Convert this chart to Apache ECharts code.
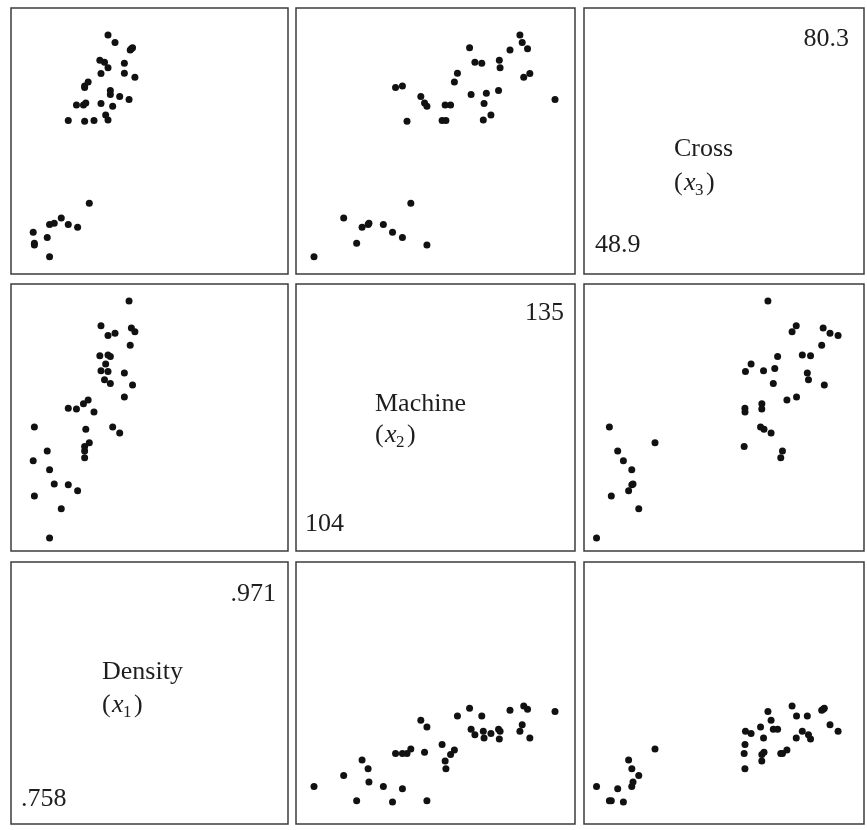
<!DOCTYPE html>
<html>
<head>
<meta charset="utf-8">
<script src="https://cdn.jsdelivr.net/npm/echarts@6/dist/echarts.min.js"></script>
<style>
html,body{margin:0;padding:0;background:#fff;}
#chart{width:867px;height:830px;}
</style>
</head>
<body>
<div id="chart"></div>
<script>
// Paper-quality measurements (specimen order). Density of specimen 25 is not plotted in the picture.
const density = [0.801,0.824,0.841,0.816,0.840,0.842,0.820,0.802,0.828,0.819,0.826,0.802,0.810,0.802,0.832,0.796,0.759,0.770,0.759,0.772,0.806,0.803,0.845,0.822,null,0.816,0.836,0.815,0.822,0.822,0.843,0.824,0.788,0.782,0.795,0.805,0.836,0.788,0.772,0.776,0.758];
const machine = [121.41,127.70,129.20,131.80,135.10,131.50,126.70,115.10,130.80,124.60,118.31,114.20,120.30,115.70,117.51,109.81,109.10,115.10,118.31,112.60,116.20,118.00,131.00,125.70,126.10,125.80,125.50,127.80,130.50,127.90,123.90,124.10,120.80,107.40,120.70,121.91,122.31,110.60,103.51,110.71,113.80];
const cross = [70.42,72.47,78.20,74.89,71.21,78.39,69.02,73.10,79.28,76.48,70.25,72.88,68.23,68.12,71.62,53.10,50.85,51.68,50.60,53.51,56.53,70.70,74.35,68.29,72.10,70.64,76.33,76.75,80.33,75.68,78.54,71.91,68.22,54.42,70.41,73.68,74.93,53.52,48.93,53.67,52.42];

const varNames = ['Density', 'Machine', 'Cross'];
const varSubs = ['1', '2', '3'];
const minLabels = ['.758', '104', '48.9'];
const maxLabels = ['.971', '135', '80.3'];

const data = {Density: density, Machine: machine, Cross: cross};
// column variables (x) and row variables (y)
const colVars = ['Density', 'Machine', 'Cross'];
const rowVars = ['Cross', 'Machine', 'Density'];

// layout (pixels) and axis ranges
const colBox = [[11, 277], [296, 279], [584, 280]];
const rowBox = [[8, 266], [284, 267], [562, 262]];
const xRange = {Density: [0.739, 0.976], Machine: [101.15, 137.72], Cross: [47.3, 83.7]};
const yRange = {Cross: [46.5, 84.15], Machine: [101.78, 137.38], Density: [0.738, 0.9755]};

function pairs(xs, ys) {
  const out = [];
  for (let i = 0; i < xs.length; i++) {
    if (xs[i] == null || ys[i] == null) continue;
    out.push([xs[i], ys[i]]);
  }
  return out;
}

const grids = [], xAxes = [], yAxes = [], series = [], graphics = [];
let gi = 0;
for (let r = 0; r < 3; r++) {
  for (let c = 0; c < 3; c++) {
    const xv = colVars[c], yv = rowVars[r];
    grids.push({
      left: colBox[c][0], width: colBox[c][1],
      top: rowBox[r][0], height: rowBox[r][1],
      show: true, borderColor: '#3c3c3c', borderWidth: 1.5, backgroundColor: '#fff'
    });
    xAxes.push({gridIndex: gi, type: 'value', min: xRange[xv][0], max: xRange[xv][1], show: false});
    yAxes.push({gridIndex: gi, type: 'value', min: yRange[yv][0], max: yRange[yv][1], show: false});
    if (xv !== yv) {
      series.push({
        type: 'scatter', xAxisIndex: gi, yAxisIndex: gi,
        data: pairs(data[xv], data[yv]),
        symbol: 'circle', symbolSize: 7,
        itemStyle: {color: '#111', opacity: 1},
        silent: true
      });
    }
    gi++;
  }
}

// diagonal labels
const font = '"Liberation Serif", "Times New Roman", serif';
const txtColor = '#1e1e1e';
function addText(x, y, text, opts) {
  graphics.push({
    type: 'text', x: x, y: y, silent: true,
    style: Object.assign({
      text: text, fill: txtColor, fontFamily: font, fontSize: 26,
      align: 'left', verticalAlign: 'middle'
    }, opts || {})
  });
}
// positions for each diagonal panel: [maxRightX, maxY, minLeftX, minY, nameX, nameY, subY]
const diag = {
  Cross:   [849, 39, 595, 245, 674, 149, 192],
  Machine: [564, 313, 305, 524, 375, 404, 444],
  Density: [276, 594, 21, 799, 102, 672, 714]
};
for (let k = 0; k < 3; k++) {
  const nm = varNames[k];
  const p = diag[nm];
  addText(p[0], p[1], maxLabels[k], {align: 'right'});
  addText(p[2], p[3], minLabels[k]);
  addText(p[4], p[5], nm);
  const B = p[6]; // baseline of "(x_k)" line
  addText(p[4], B - 8.8, '(');
  addText(p[4] + 10, B - 8.8, 'x', {fontStyle: 'italic'});
  addText(p[4] + 21, B + 4 - 5.7, varSubs[k], {fontSize: 17});
  addText(p[4] + 32, B - 8.8, ')');
}

const chart = echarts.init(document.getElementById('chart'), null, {renderer: 'canvas'});
chart.setOption({
  animation: false,
  backgroundColor: '#fff',
  grid: grids,
  xAxis: xAxes,
  yAxis: yAxes,
  series: series,
  graphic: graphics
});
</script>
</body>
</html>
